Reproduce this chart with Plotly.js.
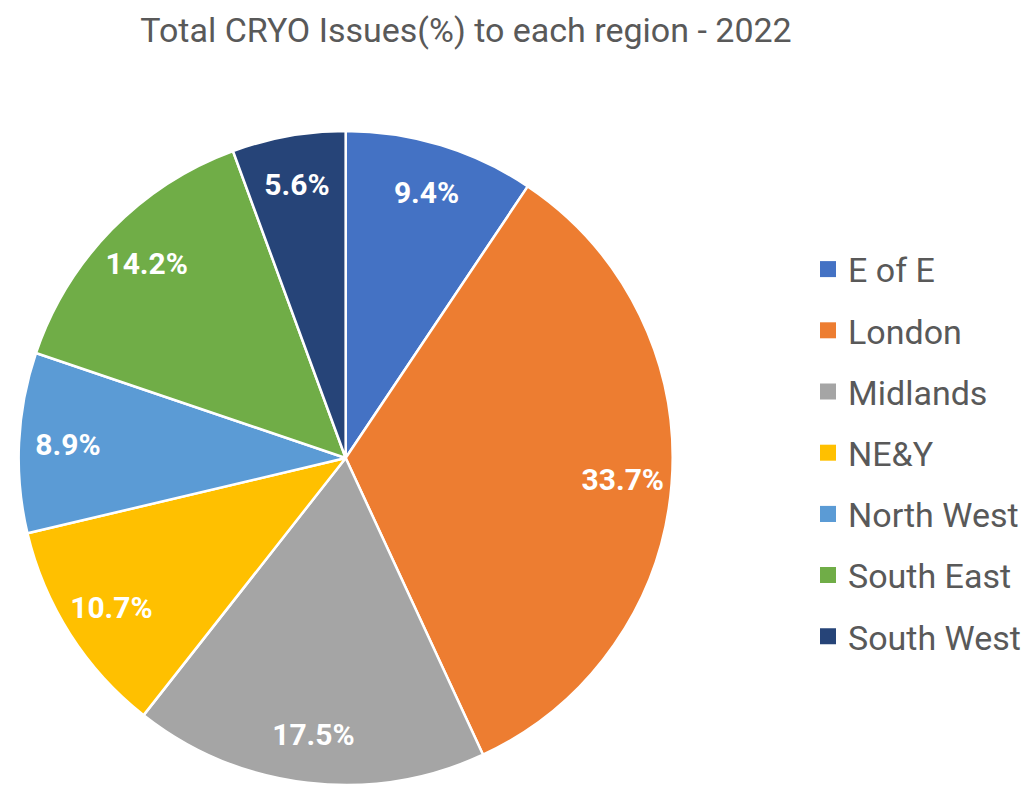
<!DOCTYPE html>
<html><head><meta charset="utf-8">
<script src="https://cdn.plot.ly/plotly-3.0.1.min.js"></script>
<style>html,body{margin:0;padding:0;background:#fff}</style>
</head><body>
<div id="chart" style="width:1026px;height:785px"></div>
<script>
var regions = ["E of E", "London", "Midlands", "NE&Y", "North West", "South East", "South West"];
var shares = [9.4, 33.7, 17.5, 10.7, 8.9, 14.2, 5.6];
var colors = ["#4472C4", "#ED7D31", "#A5A5A5", "#FFC000", "#5B9BD5", "#70AD47", "#264478"];
var chartTitle = "Total CRYO Issues(%) to each region - 2022";
var FONT = "Roboto, 'Liberation Sans', sans-serif";
var dom = {x: [18/1026, 674/1026], y: [0, 654/785]};

var pieTrace = {
  type: "pie",
  labels: regions,
  values: shares,
  sort: false,
  direction: "clockwise",
  rotation: 0,
  marker: {colors: colors, line: {color: "#ffffff", width: 2.5}},
  textinfo: "none",
  showlegend: false,
  hoverinfo: "label+percent",
  domain: dom
};

// transparent overlay ring that carries the value labels near the rim
var labelTrace = {
  type: "pie",
  labels: regions,
  values: shares,
  sort: false,
  direction: "clockwise",
  rotation: 0,
  hole: 0.7,
  marker: {colors: regions.map(function(){return "rgba(0,0,0,0)";}), line: {width: 0}},
  texttemplate: "%{value:.1f}%",
  textposition: "inside",
  insidetextorientation: "horizontal",
  textfont: {family: FONT, size: 30, color: "#ffffff", weight: "bold"},
  showlegend: false,
  hoverinfo: "skip",
  domain: dom
};

// legend entries (one per region, separate groups so the spacing can be set)
var legendTraces = regions.map(function(r, i) {
  return {type: "scatter", mode: "markers", x: [null], y: [null], name: r,
          legendgroup: "g" + i, showlegend: true, hoverinfo: "skip",
          marker: {symbol: "square", size: 17, color: colors[i]}};
});

var layout = {
  width: 1026, height: 785,
  margin: {l: 0, r: 0, t: 0, b: 0},
  paper_bgcolor: "#ffffff",
  plot_bgcolor: "rgba(0,0,0,0)",
  xaxis: {visible: false}, yaxis: {visible: false},
  title: {text: chartTitle, x: 466/1026, xanchor: "center", y: 1 - 30/785, yanchor: "middle",
          font: {family: FONT, size: 34, color: "#595959"}},
  showlegend: true,
  legend: {x: 809/1026, xanchor: "left", y: 1 - 453/785, yanchor: "middle",
           font: {family: FONT, size: 34, color: "#595959"}, itemwidth: 30,
           traceorder: "grouped", tracegroupgap: 14, bgcolor: "rgba(0,0,0,0)"}
};

Plotly.newPlot("chart", [pieTrace, labelTrace].concat(legendTraces), layout, {displayModeBar: false});
</script>
</body></html>
